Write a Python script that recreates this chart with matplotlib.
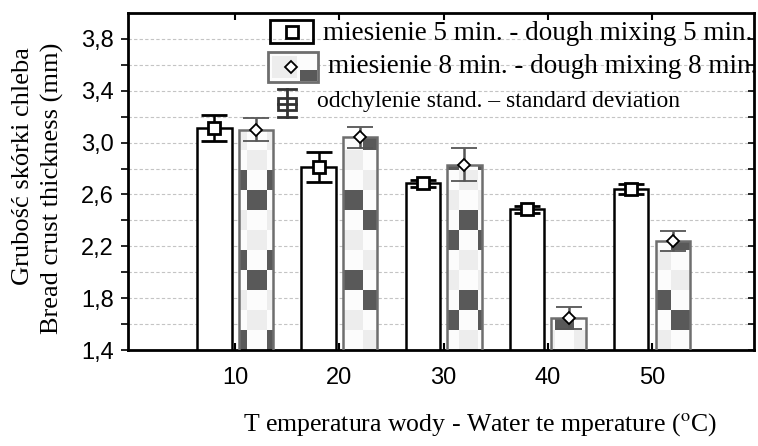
import numpy as np
import matplotlib.pyplot as plt
from matplotlib.patches import Rectangle
from matplotlib.lines import Line2D
from matplotlib.transforms import Affine2D

plt.rcParams['font.family'] = 'Liberation Sans'
plt.rcParams['mathtext.fontset'] = 'stix'

# data
temps = ['10', '20', '30', '40', '50']
mean_5 = [3.11, 2.81, 2.685, 2.485, 2.64]
sd_5 = [0.10, 0.115, 0.03, 0.025, 0.04]
mean_8 = [3.10, 3.04, 2.83, 1.65, 2.24]
sd_8 = [0.09, 0.08, 0.125, 0.085, 0.08]

y_ticks = [1.4, 1.8, 2.2, 2.6, 3.0, 3.4, 3.8]
y_tick_labels = ['1,4', '1,8', '2,2', '2,6', '3,0', '3,4', '3,8']
y_minor = [1.6, 2.0, 2.4, 2.8, 3.2, 3.6]

label_5 = 'miesienie 5 min. - dough mixing 5 min.'
label_8 = 'miesienie 8 min. - dough mixing 8 min.'
label_sd = 'odchylenie stand. \u2013 standard deviation'
ylabel_pl = 'Grubość skórki chleba'
ylabel_en = 'Bread crust thickness (mm)'
xlabel = 'T emperatura wody - Water te mperature ($^{\\rm o}$C)'

W, H = 758, 446
serif = 'Liberation Serif'
DARK = (0.35, 0.35, 0.35)
LIGHT = (0.93, 0.93, 0.93)
WHITE = (0.99, 0.99, 0.99)
checker = [[DARK, WHITE], [WHITE, LIGHT], [LIGHT, WHITE], [WHITE, DARK]]

fig = plt.figure(figsize=(W / 100, H / 100), dpi=100)
ax = fig.add_axes([128 / W, 1 - 350 / H, (754 - 128) / W, (350 - 13) / H])
ylo, yhi = 1.4, 4.0

x = np.arange(1, len(temps) + 1)
bw = 0.33
ax.bar(x - 0.2, mean_5, width=bw, color='white', edgecolor='black', linewidth=1.8, zorder=2)
bars8 = ax.bar(x + 0.2, mean_8, width=bw, color='white', edgecolor='none', zorder=2)

# checker fill of the 8 min bars
tw, th = 0.185, 0.154
for b in bars8:
    left, right, top = b.get_x(), b.get_x() + b.get_width(), b.get_height()
    c0, c1 = int(np.floor(left / tw)), int(np.ceil(right / tw))
    nr = int(np.ceil((top - ylo) / th))
    img = np.zeros((nr, c1 - c0, 3))
    for r in range(nr):
        for c in range(c0, c1):
            img[r, c - c0] = checker[(nr - 1 - r) % 4][c % 2]
    im = ax.imshow(img, extent=[c0 * tw, c1 * tw, ylo, ylo + nr * th], origin='lower',
                   aspect='auto', interpolation='nearest', zorder=2.5)
    im.set_clip_path(b)
ax.bar(x + 0.2, mean_8, width=bw, color='none', edgecolor='#6e6e6e', linewidth=1.8, zorder=3)

ax.errorbar(x - 0.2, mean_5, yerr=sd_5, fmt='s', ms=8, mfc='white', mec='black', mew=2,
            ecolor='black', elinewidth=1.8, capsize=9.5, capthick=1.8, zorder=5)
ax.errorbar(x + 0.2, mean_8, yerr=sd_8, fmt='D', ms=6, mfc='white', mec='black', mew=1.3,
            ecolor='#555555', elinewidth=1.8, capsize=9.5, capthick=1.8, zorder=5)

ax.set_xlim(-0.03, 5.98)
ax.set_ylim(ylo, yhi)
ax.set_xticks(x, temps)
ax.set_yticks(y_ticks, y_tick_labels)
ax.set_yticks(y_minor, minor=True)
ax.tick_params(axis='x', direction='in', top=True, length=5, width=1.5, pad=12, labelsize=17)
ax.tick_params(axis='y', which='both', direction='out', length=5, width=1.2, pad=5, labelsize=17)
ax.set_axisbelow(True)
ax.yaxis.grid(True, which='both', linestyle=(0, (3, 2)), color='#c4c4c4', linewidth=0.8)
for s in ax.spines.values():
    s.set_linewidth(2)

ax2 = ax.twinx()
ax2.set_ylim(ylo, yhi)
ax2.set_yticks(y_ticks + y_minor)
ax2.tick_params(axis='y', direction='in', length=4, width=1.2, labelright=False)
for s in ax2.spines.values():
    s.set_visible(False)

fig.text(23 / W, 1 - 166 / H, ylabel_pl, rotation=90, ha='center', va='center',
         fontsize=19, family=serif)
fig.text(52 / W, 1 - 188 / H, ylabel_en, rotation=90, ha='center', va='center',
         fontsize=19, family=serif)
fig.text(480 / W, 1 - 425 / H, xlabel, ha='center', va='center', fontsize=18.5, family=serif)

# legend drawn in pixel coordinates
px = Affine2D().scale(1 / W, -1 / H).translate(0, 1) + fig.transFigure

fig.add_artist(Rectangle((270, 20), 43, 23, fill=False, edgecolor='black', linewidth=2, transform=px))
fig.add_artist(Line2D([291.5], [31.5], marker='s', ms=8, mfc='white', mec='black', mew=2, transform=px))
fig.text(323 / W, 1 - 40 / H, label_5, fontsize=19.5, family=serif, va='baseline')

fig.add_artist(Rectangle((268, 52), 50, 30, facecolor=WHITE, edgecolor='#6e6e6e', linewidth=2, transform=px))
fig.add_artist(Rectangle((272, 56), 25, 22, facecolor=LIGHT, edgecolor='none', transform=px))
fig.add_artist(Rectangle((300, 70), 17, 11, facecolor=DARK, edgecolor='none', transform=px))
fig.add_artist(Line2D([291], [67], marker='D', ms=6, mfc='white', mec='black', mew=1.3, transform=px))
fig.text(328 / W, 1 - 73 / H, label_8, fontsize=19.5, family=serif, va='baseline')

ic = '#333333'
fig.add_artist(Line2D([287, 287], [89, 117], color=ic, lw=2, transform=px))
fig.add_artist(Line2D([278, 296], [89, 89], color=ic, lw=2, transform=px))
fig.add_artist(Line2D([278, 296], [117, 117], color=ic, lw=2, transform=px))
fig.add_artist(Rectangle((278, 98), 18, 12, fill=False, edgecolor=ic, linewidth=2, transform=px))
fig.add_artist(Line2D([278, 296], [104, 104], color=ic, lw=2, transform=px))
fig.text(317 / W, 1 - 107 / H, label_sd, fontsize=17, family=serif, va='baseline')

fig.savefig('out.png', dpi=100)
